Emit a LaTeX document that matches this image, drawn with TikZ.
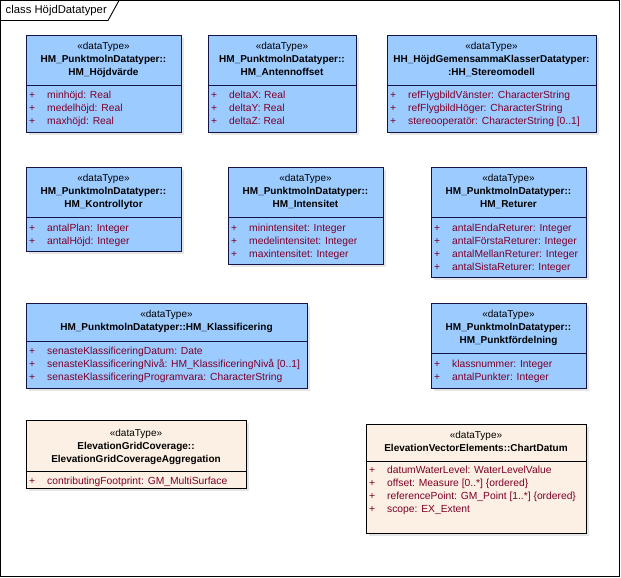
\documentclass[tikz,border=0pt]{standalone}
\usepackage{fontspec}
\setmainfont{Liberation Sans}
\definecolor{dtblue}{RGB}{156,203,255}
\definecolor{dtbeige}{RGB}{251,240,227}
\definecolor{dtedge}{RGB}{20,20,70}
\definecolor{attrcol}{RGB}{125,0,40}
\newcommand{\attrline}[1]{\makebox[18pt][l]{+}#1}
\begin{document}
\begin{tikzpicture}[x=1pt,y=-1pt,
		bluebox/.style={draw=dtedge,fill=dtblue,line width=0.9pt},
		beigebox/.style={draw=black,fill=dtbeige,line width=0.9pt},
		shade/.style={fill=black!10,draw=none},
		hdr/.style={anchor=north,inner sep=0pt,align=center,font=\fontsize{10}{13}\selectfont},
		attrs/.style={anchor=north west,inner sep=0pt,align=left,text=attrcol,font=\fontsize{10.3}{13}\selectfont}]
		\useasboundingbox (0,0) rectangle (621,578);
		% frame
		\draw[line width=0.9pt] (0.5,0.5) rectangle (619.5,576.5);
		\draw[line width=0.9pt] (0.5,20.5) -- (108,20.5) -- (119,0.5);
		\node[anchor=west,inner sep=0pt,font=\fontsize{11.3}{13}\selectfont] (title) at (5.5,11) {class HöjdDatatyper};
		% row 1
		\fill[shade] (29,38) rectangle (184,135);
		\draw[bluebox] (26,35) rectangle (181,132);
		\draw[dtedge,line width=0.9pt] (26,85) -- (181,85);
		\node[hdr] (hojdH) at (103.5,42.4) {«dataType»\\\textbf{HM\_PunktmolnDatatyper::}\\\textbf{HM\_Höjdvärde}};
		\node[attrs] (hojdA) at (29,90.9) {\attrline{minhöjd: Real}\\\attrline{medelhöjd: Real}\\\attrline{maxhöjd: Real}};
		\fill[shade] (211,38) rectangle (359,135);
		\draw[bluebox] (208,35) rectangle (356,132);
		\draw[dtedge,line width=0.9pt] (208,85) -- (356,85);
		\node[hdr] (antH) at (282,42.4) {«dataType»\\\textbf{HM\_PunktmolnDatatyper::}\\\textbf{HM\_Antennoffset}};
		\node[attrs] (antA) at (211,90.9) {\attrline{deltaX: Real}\\\attrline{deltaY: Real}\\\attrline{deltaZ: Real}};
		\fill[shade] (390,38) rectangle (599,135);
		\draw[bluebox] (387,35) rectangle (596,132);
		\draw[dtedge,line width=0.9pt] (387,85) -- (596,85);
		\node[hdr] (stereoH) at (491.5,42.4) {«dataType»\\\textbf{HH\_HöjdGemensammaKlasserDatatyper:}\\\textbf{:HH\_Stereomodell}};
		\node[attrs] (stereoA) at (390,90.9) {\attrline{refFlygbildVänster: CharacterString}\\\attrline{refFlygbildHöger: CharacterString}\\\attrline{stereooperatör: CharacterString [0..1]}};
		% row 2
		\fill[shade] (29,170) rectangle (184,254);
		\draw[bluebox] (26,167) rectangle (181,251);
		\draw[dtedge,line width=0.9pt] (26,217) -- (181,217);
		\node[hdr] (kontrH) at (103.5,174.4) {«dataType»\\\textbf{HM\_PunktmolnDatatyper::}\\\textbf{HM\_Kontrollytor}};
		\node[attrs] (kontrA) at (29,223.4) {\attrline{antalPlan: Integer}\\\attrline{antalHöjd: Integer}};
		\fill[shade] (231,170) rectangle (386,267);
		\draw[bluebox] (228,167) rectangle (383,264);
		\draw[dtedge,line width=0.9pt] (228,217) -- (383,217);
		\node[hdr] (intH) at (305.5,174.4) {«dataType»\\\textbf{HM\_PunktmolnDatatyper::}\\\textbf{HM\_Intensitet}};
		\node[attrs] (intA) at (231,223.4) {\attrline{minintensitet: Integer}\\\attrline{medelintensitet: Integer}\\\attrline{maxintensitet: Integer}};
		\fill[shade] (434,170) rectangle (589,280);
		\draw[bluebox] (431,167) rectangle (586,277);
		\draw[dtedge,line width=0.9pt] (431,217) -- (586,217);
		\node[hdr] (retH) at (508.5,174.4) {«dataType»\\\textbf{HM\_PunktmolnDatatyper::}\\\textbf{HM\_Returer}};
		\node[attrs] (retA) at (434,223.4) {\attrline{antalEndaReturer: Integer}\\\attrline{antalFörstaReturer: Integer}\\\attrline{antalMellanReturer: Integer}\\\attrline{antalSistaReturer: Integer}};
		% row 3
		\fill[shade] (29,306) rectangle (310,391);
		\draw[bluebox] (26,303) rectangle (307,388);
		\draw[dtedge,line width=0.9pt] (26,341) -- (307,341);
		\node[hdr] (klassH) at (166.5,310.4) {«dataType»\\\textbf{HM\_PunktmolnDatatyper::HM\_Klassificering}};
		\node[attrs] (klassA) at (29,346.4) {\attrline{senasteKlassificeringDatum: Date}\\\attrline{senasteKlassificeringNivå: HM\_KlassificeringNivå [0..1]}\\\attrline{senasteKlassificeringProgramvara: CharacterString}};
		\fill[shade] (434,306) rectangle (589,391);
		\draw[bluebox] (431,303) rectangle (586,388);
		\draw[dtedge,line width=0.9pt] (431,353) -- (586,353);
		\node[hdr] (fordH) at (508.5,310.4) {«dataType»\\\textbf{HM\_PunktmolnDatatyper::}\\\textbf{HM\_Punktfördelning}};
		\node[attrs] (fordA) at (434,359.4) {\attrline{klassnummer: Integer}\\\attrline{antalPunkter: Integer}};
		% row 4
		\fill[shade] (29,423) rectangle (249,491);
		\draw[beigebox] (26,420) rectangle (246,488);
		\draw[line width=0.9pt] (26,471) -- (246,471);
		\node[hdr] (gridH) at (136,428.8) {«dataType»\\\textbf{ElevationGridCoverage::}\\\textbf{ElevationGridCoverageAggregation}};
		\node[attrs] (gridA) at (29,476.4) {\attrline{contributingFootprint: GM\_MultiSurface}};
		\fill[shade] (369,427) rectangle (589,536);
		\draw[beigebox] (366,424) rectangle (586,533);
		\draw[line width=0.9pt] (366,461) -- (586,461);
		\node[hdr] (chartH) at (476,431.4) {«dataType»\\\textbf{ElevationVectorElements::ChartDatum}};
		\node[attrs] (chartA) at (369,465.9) {\attrline{datumWaterLevel: WaterLevelValue}\\\attrline{offset: Measure [0..*] \{ordered\}}\\\attrline{referencePoint: GM\_Point [1..*] \{ordered\}}\\\attrline{scope: EX\_Extent}};
	\end{tikzpicture}
\end{document}
